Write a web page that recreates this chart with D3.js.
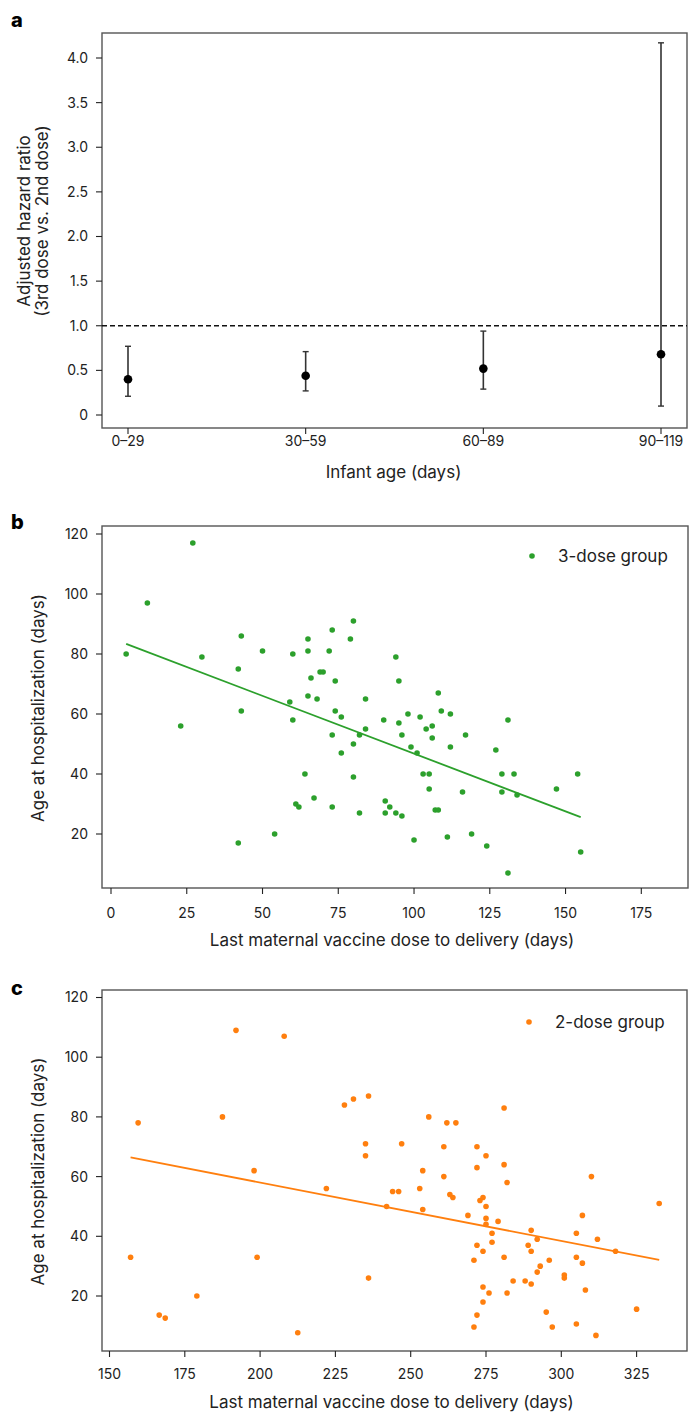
<!DOCTYPE html>
<html>
<head>
<meta charset="utf-8">
<script src="https://cdn.jsdelivr.net/npm/d3@7"></script>
<style>
  html, body { margin: 0; padding: 0; background: #fff; }
  svg { display: block; font-family: Inter, Roboto, "Noto Sans", "DejaVu Sans", sans-serif; }
</style>
</head>
<body>
<svg id="fig" width="692" height="1412"></svg>
<script>
// ---- Panel a: adjusted hazard ratio (3rd vs 2nd dose) by infant age ----
const ageGroups = ["0–29", "30–59", "60–89", "90–119"];
const hrEstimate = [0.40, 0.44, 0.52, 0.68];
const hrLower = [0.21, 0.27, 0.29, 0.10];
const hrUpper = [0.77, 0.71, 0.94, 4.17];
const hrTicks = [0, 0.5, 1.0, 1.5, 2.0, 2.5, 3.0, 3.5, 4.0];
const hrReference = 1.0;

// ---- Panel b: 3-dose group ----
const threeDoseInterval = [5, 12, 27, 30, 23, 43, 42, 43, 42, 50, 54, 59, 60, 60, 61, 62, 64, 65, 65, 65,
  66, 67, 68, 69, 70, 72, 73, 74, 74, 73, 73, 76, 76, 79, 80, 80, 80, 82, 82, 84,
  84, 90, 90.5, 90.5, 92, 94, 94, 95, 95, 96, 96, 98, 99, 101, 100, 102, 104, 106, 106, 103,
  105, 105, 107, 108, 108, 109, 112, 112, 111, 117, 116, 119, 124, 127, 129, 129, 131, 133, 134, 131,
  147, 154, 155];
const threeDoseAge = [80, 97, 117, 79, 56, 86, 75, 61, 17, 81, 20, 64, 80, 58, 30, 29, 40, 85, 81, 66,
  72, 32, 65, 74, 74, 81, 88, 71, 61, 53, 29, 59, 47, 85, 91, 50, 39, 53, 27, 65,
  55, 58, 31, 27, 29, 79, 27, 71, 57, 53, 26, 60, 49, 47, 18, 59, 55, 56, 52, 40,
  40, 35, 28, 28, 67, 61, 60, 49, 19, 53, 34, 20, 16, 48, 40, 34, 58, 40, 33, 7,
  35, 40, 14];
const threeDoseFit = [85.3, -0.385];          // intercept, slope
const threeDoseXTicks = [0, 25, 50, 75, 100, 125, 150, 175];
const threeDoseYTicks = [20, 40, 60, 80, 100, 120];

// ---- Panel c: 2-dose group ----
const twoDoseInterval = [157, 159.5, 166.5, 168.5, 179, 187.5, 192, 198, 199, 208, 212.5, 222, 228, 231, 236, 235, 235, 236, 242, 244,
  246, 247, 254, 253, 254, 256, 261, 261, 262, 265, 263, 264, 269, 272, 272, 275, 273, 274, 275, 275,
  275, 272, 274, 271, 277, 277, 279, 281, 281, 282, 281, 274, 276, 282, 274, 272, 271, 284, 288, 290,
  290, 289, 290, 292, 296, 293, 292, 295, 297, 301, 301, 305, 305, 307, 307, 308, 305, 310, 312, 311.5,
  318, 325, 332.5];
const twoDoseAge = [33, 78, 13.6, 12.6, 20, 80, 109, 62, 33, 107, 7.7, 56, 84, 86, 87, 71, 67, 26, 50, 55,
  55, 71, 62, 56, 49, 80, 70, 60, 78, 78, 54, 53, 47, 70, 63, 67, 52, 53, 50, 46,
  44, 37, 35, 32, 41, 38, 45, 83, 64, 58, 33, 23, 21, 21, 18, 13.6, 9.6, 25, 25, 24,
  42, 37, 35, 39, 32, 30, 28, 14.6, 9.6, 27, 26, 41, 33, 47, 31, 22, 10.6, 60, 39, 6.8,
  35, 15.6, 51];
const twoDoseFit = [97.1, -0.1955];           // intercept, slope
const twoDoseXTicks = [150, 175, 200, 225, 250, 275, 300, 325];
const twoDoseYTicks = [20, 40, 60, 80, 100, 120];

const GREEN = "#2ca02c";
const ORANGE = "#ff7f0e";
const INK = "#222";
const FRAME = "#555";
const TICK_FONT = 14;
const TITLE_FONT = 17;

const svg = d3.select("#fig");

function panelLetter(txt, y) {
  svg.append("text").attr("x", 11).attr("y", y)
    .attr("font-size", 20).attr("font-weight", 800).attr("fill", "#000")
    .text(txt);
}

function frame(g, x0, x1, y0, y1) {
  g.append("rect").attr("x", x0).attr("y", y0)
    .attr("width", x1 - x0).attr("height", y1 - y0)
    .attr("fill", "none").attr("stroke", FRAME).attr("stroke-width", 1.4);
}

function yAxisTicks(g, scale, ticks, x0, fmt) {
  const t = g.append("g");
  ticks.forEach(v => {
    t.append("line").attr("x1", x0 - 6).attr("x2", x0)
      .attr("y1", scale(v)).attr("y2", scale(v))
      .attr("stroke", INK).attr("stroke-width", 1.1);
    t.append("text").attr("x", x0 - 14).attr("y", scale(v))
      .attr("dy", "0.35em").attr("text-anchor", "end")
      .attr("font-size", TICK_FONT).attr("fill", INK).text(fmt(v));
  });
}

function xAxisTicks(g, scale, ticks, y0, labelY, fmt) {
  const t = g.append("g");
  ticks.forEach(v => {
    t.append("line").attr("x1", scale(v)).attr("x2", scale(v))
      .attr("y1", y0).attr("y2", y0 + 6)
      .attr("stroke", INK).attr("stroke-width", 1.1);
    t.append("text").attr("x", scale(v)).attr("y", labelY)
      .attr("dy", "0.35em").attr("text-anchor", "middle")
      .attr("font-size", TICK_FONT).attr("fill", INK).text(fmt(v));
  });
}

// ================= Panel a =================
(function () {
  const g = svg.append("g");
  const L = 102, R = 687, T = 33, B = 428;
  const x = d3.scalePoint().domain(ageGroups).range([128, 661]);
  const y = d3.scaleLinear().domain([0, 4]).range([415, 58]);

  panelLetter("a", 27);
  frame(g, L, R, T, B);

  yAxisTicks(g, y, hrTicks, L, v => v === 0 ? "0" : d3.format(".1f")(v));
  xAxisTicks(g, x, ageGroups, B, 441, v => v);

  // reference line at HR = 1
  g.append("line").attr("x1", L).attr("x2", R)
    .attr("y1", y(hrReference)).attr("y2", y(hrReference))
    .attr("stroke", "#111").attr("stroke-width", 1.4)
    .attr("stroke-dasharray", "5,3");

  const rows = ageGroups.map((a, i) => ({ a, est: hrEstimate[i], lo: hrLower[i], hi: hrUpper[i] }));
  const eb = g.append("g");
  rows.forEach(d => {
    const cx = x(d.a);
    eb.append("line").attr("x1", cx).attr("x2", cx).attr("y1", y(d.lo)).attr("y2", y(d.hi))
      .attr("stroke", "#333").attr("stroke-width", 1.6);
    [d.lo, d.hi].forEach(v => {
      eb.append("line").attr("x1", cx - 3).attr("x2", cx + 3).attr("y1", y(v)).attr("y2", y(v))
        .attr("stroke", "#333").attr("stroke-width", 1.4);
    });
    eb.append("circle").attr("cx", cx).attr("cy", y(d.est)).attr("r", 4.3).attr("fill", "#000");
  });

  // axis titles
  g.append("text").attr("x", (L + R) / 2 - 1).attr("y", 472).attr("dy", "0.35em")
    .attr("text-anchor", "middle").attr("font-size", TITLE_FONT).attr("fill", INK)
    .text("Infant age (days)");
  const yt = g.append("text").attr("transform", "translate(24,221) rotate(-90)")
    .attr("text-anchor", "middle").attr("font-size", TITLE_FONT).attr("fill", INK);
  yt.append("tspan").attr("x", 0).attr("dy", "0.35em").text("Adjusted hazard ratio");
  yt.append("tspan").attr("x", 0).attr("dy", "1.08em").text("(3rd dose vs. 2nd dose)");
})();

// ============ Scatter panels (b, c) ============
function scatterPanel(opts) {
  const g = svg.append("g");
  const { L, R, T, B, x, y, xs, ys, fit, color, xTicks, yTicks, legend, legendX, legendY,
          tickLabelY, titleY, letter, letterY } = opts;

  panelLetter(letter, letterY);
  frame(g, L, R, T, B);
  yAxisTicks(g, y, yTicks, L, v => String(v));
  xAxisTicks(g, x, xTicks, B, tickLabelY, v => String(v));

  const pts = xs.map((v, i) => ({ x: v, y: ys[i] }));

  // fitted linear trend across the observed range
  const [x0, x1] = d3.extent(xs);
  const line = d3.line().x(d => x(d[0])).y(d => y(d[1]));
  g.append("path")
    .attr("d", line([[x0, fit[0] + fit[1] * x0], [x1, fit[0] + fit[1] * x1]]))
    .attr("fill", "none").attr("stroke", color).attr("stroke-width", 1.8);

  g.append("g").selectAll("circle").data(pts).join("circle")
    .attr("cx", d => x(d.x)).attr("cy", d => y(d.y)).attr("r", 2.8).attr("fill", color);

  // legend
  g.append("circle").attr("cx", legendX).attr("cy", legendY).attr("r", 2.8).attr("fill", color);
  g.append("text").attr("x", legendX + 26).attr("y", legendY).attr("dy", "0.35em")
    .attr("font-size", 17).attr("fill", INK).text(legend);

  g.append("text").attr("x", (L + R) / 2 - 3).attr("y", titleY).attr("dy", "0.35em")
    .attr("text-anchor", "middle").attr("font-size", TITLE_FONT).attr("fill", INK)
    .text("Last maternal vaccine dose to delivery (days)");
  g.append("text").attr("transform", `translate(38,${(T + B) / 2 + 1}) rotate(-90)`)
    .attr("dy", "0.35em").attr("text-anchor", "middle").attr("font-size", TITLE_FONT).attr("fill", INK)
    .text("Age at hospitalization (days)");
}

scatterPanel({
  L: 102, R: 688, T: 526, B: 888,
  x: d3.scaleLinear().domain([0, 175]).range([111, 641.3]),
  y: d3.scaleLinear().domain([20, 120]).range([834, 534]),
  xs: threeDoseInterval, ys: threeDoseAge, fit: threeDoseFit, color: GREEN,
  xTicks: threeDoseXTicks, yTicks: threeDoseYTicks,
  legend: "3-dose group", legendX: 532, legendY: 556,
  tickLabelY: 913, titleY: 940, letter: "b", letterY: 529
});

scatterPanel({
  L: 102, R: 687, T: 990, B: 1351,
  x: d3.scaleLinear().domain([150, 325]).range([109.5, 636.6]),
  y: d3.scaleLinear().domain([20, 120]).range([1296, 997.5]),
  xs: twoDoseInterval, ys: twoDoseAge, fit: twoDoseFit, color: ORANGE,
  xTicks: twoDoseXTicks, yTicks: twoDoseYTicks,
  legend: "2-dose group", legendX: 529, legendY: 1022,
  tickLabelY: 1374, titleY: 1402, letter: "c", letterY: 995
});
</script>
</body>
</html>
